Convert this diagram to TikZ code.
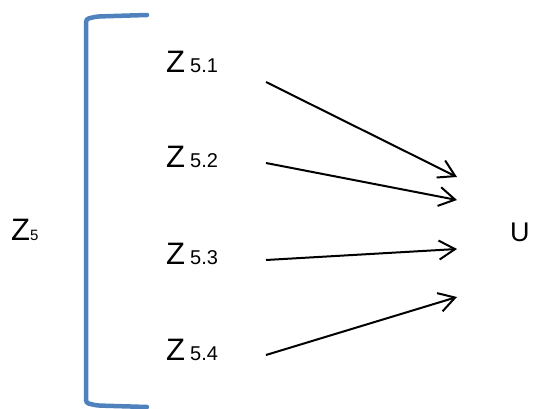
\documentclass[tikz,border=0pt]{standalone}
\usepackage{fontspec}
\setmainfont{Liberation Sans}
\usetikzlibrary{arrows.meta}
\definecolor{brk}{HTML}{4F81BD}
\begin{document}
\begin{tikzpicture}[x=1pt,y=-1pt,
  lbl/.style={anchor=base west,inner sep=0pt,font=\fontsize{31}{31}\selectfont},
  conn/.style={line width=2pt,-{Straight Barb[length=16pt,width=19pt,line width=2pt]}}]
\useasboundingbox (0,0) rectangle (550,409);
% bracket
\draw[brk,line width=4.5pt,line cap=round,rounded corners=3pt]
  (147,15) -- (97,16.5) -- (86,19) -- (86,403) -- (97,405.5) -- (147,407);
% labels
\node[lbl] (z5) at (11,241) {Z\fontsize{15}{15}\selectfont 5};
\node[lbl] (z51) at (166,73) {Z\hspace{5pt}\fontsize{20}{20}\selectfont 5.1};
\node[lbl] (z52) at (166,168) {Z\hspace{5pt}\fontsize{20}{20}\selectfont 5.2};
\node[lbl] (z53) at (166,265) {Z\hspace{5pt}\fontsize{20}{20}\selectfont 5.3};
\node[lbl] (z54) at (166,361) {Z\hspace{5pt}\fontsize{20}{20}\selectfont 5.4};
\node[lbl,font=\fontsize{27}{27}\selectfont] (u) at (510,242) {U};
% connector ends
\coordinate (s1) at (266,82);
\coordinate (s2) at (266,163);
\coordinate (s3) at (266,260);
\coordinate (s4) at (266,355);
\coordinate (e1) at (457,177);
\coordinate (e2) at (457,200);
\coordinate (e3) at (457,249);
\coordinate (e4) at (457,297);
\draw[conn] (s1) -- (e1);
\draw[conn] (s2) -- (e2);
\draw[conn] (s3) -- (e3);
\draw[conn] (s4) -- (e4);
\end{tikzpicture}
\end{document}
